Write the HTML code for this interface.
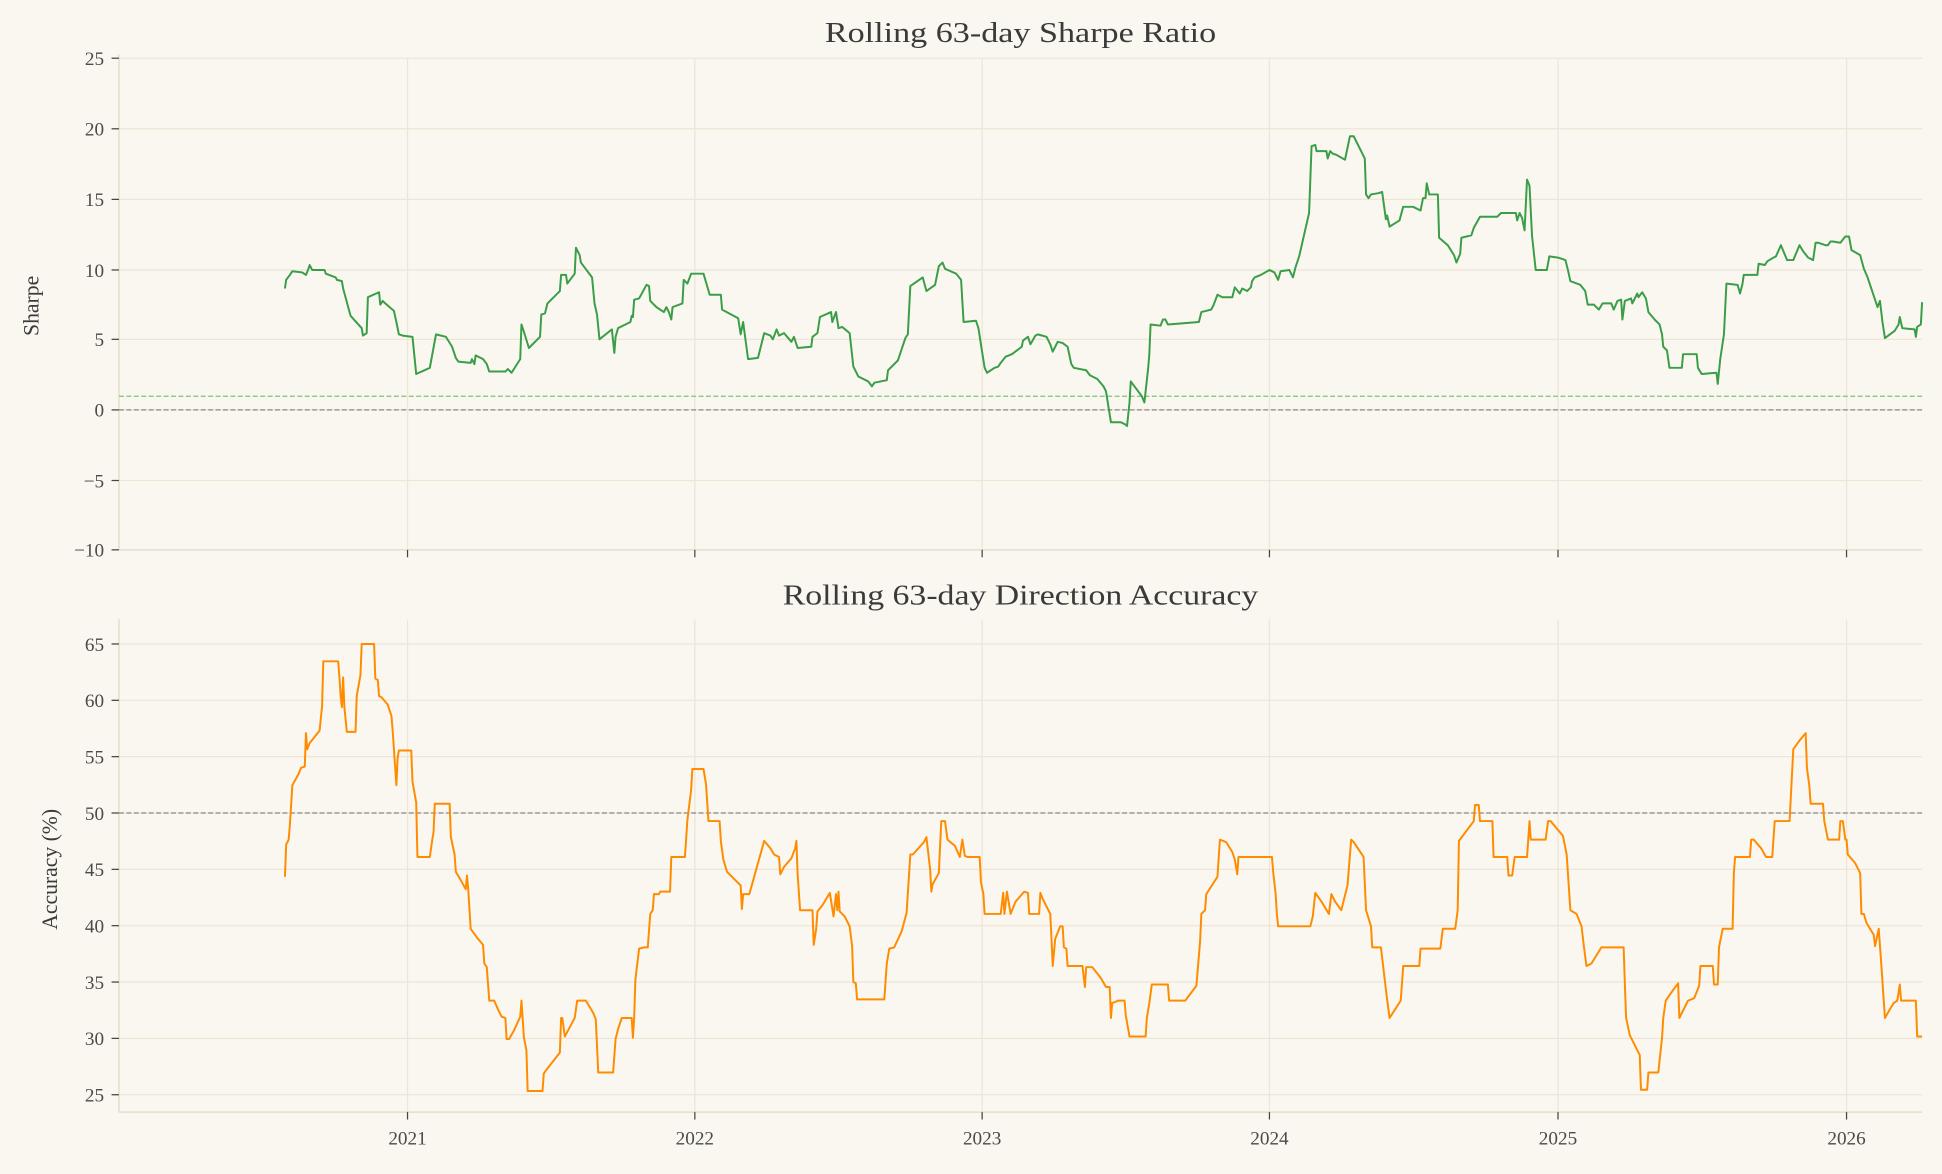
<!DOCTYPE html>
<html><head><meta charset="utf-8"><style>
html,body{margin:0;padding:0;background:#faf7f0;}
svg{display:block;}
text{font-family:"Liberation Serif","DejaVu Serif",serif;fill:#3a3a3a;}
.tk{font-size:15.5px;fill:#4a4a4a;}
</style></head><body>
<svg width="1942" height="1174" viewBox="0 0 1568 948" xmlns="http://www.w3.org/2000/svg">
<rect width="1568" height="948" fill="#faf7f0"/>
<g stroke="#eee5d5" stroke-width="1">
<line x1="96" y1="47" x2="1552" y2="47"/><line x1="96" y1="104" x2="1552" y2="104"/><line x1="96" y1="161" x2="1552" y2="161"/><line x1="96" y1="218" x2="1552" y2="218"/><line x1="96" y1="274" x2="1552" y2="274"/><line x1="96" y1="331" x2="1552" y2="331"/><line x1="96" y1="388" x2="1552" y2="388"/>
<line x1="329" y1="47" x2="329" y2="444"/><line x1="561" y1="47" x2="561" y2="444"/><line x1="793" y1="47" x2="793" y2="444"/><line x1="1025" y1="47" x2="1025" y2="444"/><line x1="1258" y1="47" x2="1258" y2="444"/><line x1="1491" y1="47" x2="1491" y2="444"/>
<line x1="96" y1="520" x2="1552" y2="520"/><line x1="96" y1="565.5" x2="1552" y2="565.5"/><line x1="96" y1="611" x2="1552" y2="611"/><line x1="96" y1="656.5" x2="1552" y2="656.5"/><line x1="96" y1="702" x2="1552" y2="702"/><line x1="96" y1="747.5" x2="1552" y2="747.5"/><line x1="96" y1="793" x2="1552" y2="793"/><line x1="96" y1="838.5" x2="1552" y2="838.5"/><line x1="96" y1="884" x2="1552" y2="884"/>
<line x1="329" y1="500" x2="329" y2="898"/><line x1="561" y1="500" x2="561" y2="898"/><line x1="793" y1="500" x2="793" y2="898"/><line x1="1025" y1="500" x2="1025" y2="898"/><line x1="1258" y1="500" x2="1258" y2="898"/><line x1="1491" y1="500" x2="1491" y2="898"/>
</g>
<g stroke="#e8dcc8" stroke-width="1.2">
<line x1="96" y1="44" x2="96" y2="444"/><line x1="96" y1="444" x2="1552" y2="444"/>
<line x1="96" y1="500" x2="96" y2="898"/><line x1="96" y1="898" x2="1552" y2="898"/>
</g>
<g stroke="#444" stroke-width="1">
<line x1="90" y1="47" x2="96" y2="47"/><line x1="90" y1="104" x2="96" y2="104"/><line x1="90" y1="161" x2="96" y2="161"/><line x1="90" y1="218" x2="96" y2="218"/><line x1="90" y1="274" x2="96" y2="274"/><line x1="90" y1="331" x2="96" y2="331"/><line x1="90" y1="388" x2="96" y2="388"/><line x1="90" y1="444" x2="96" y2="444"/>
<line x1="329" y1="444" x2="329" y2="450"/><line x1="561" y1="444" x2="561" y2="450"/><line x1="793" y1="444" x2="793" y2="450"/><line x1="1025" y1="444" x2="1025" y2="450"/><line x1="1258" y1="444" x2="1258" y2="450"/><line x1="1491" y1="444" x2="1491" y2="450"/>
<line x1="90" y1="520" x2="96" y2="520"/><line x1="90" y1="565.5" x2="96" y2="565.5"/><line x1="90" y1="611" x2="96" y2="611"/><line x1="90" y1="656.5" x2="96" y2="656.5"/><line x1="90" y1="702" x2="96" y2="702"/><line x1="90" y1="747.5" x2="96" y2="747.5"/><line x1="90" y1="793" x2="96" y2="793"/><line x1="90" y1="838.5" x2="96" y2="838.5"/><line x1="90" y1="884" x2="96" y2="884"/>
<line x1="329" y1="898" x2="329" y2="904"/><line x1="561" y1="898" x2="561" y2="904"/><line x1="793" y1="898" x2="793" y2="904"/><line x1="1025" y1="898" x2="1025" y2="904"/><line x1="1258" y1="898" x2="1258" y2="904"/><line x1="1491" y1="898" x2="1491" y2="904"/>
</g>
<g text-anchor="end">
<text x="84" y="52.5" class="tk">25</text><text x="84" y="109.5" class="tk">20</text><text x="84" y="166.5" class="tk">15</text><text x="84" y="223.5" class="tk">10</text><text x="84" y="279.5" class="tk">5</text><text x="84" y="336.5" class="tk">0</text><text x="84" y="393.5" class="tk">−5</text><text x="84" y="449.5" class="tk">−10</text>
<text x="84" y="525.5" class="tk">65</text><text x="84" y="571" class="tk">60</text><text x="84" y="616.5" class="tk">55</text><text x="84" y="662" class="tk">50</text><text x="84" y="707.5" class="tk">45</text><text x="84" y="753" class="tk">40</text><text x="84" y="798.5" class="tk">35</text><text x="84" y="844" class="tk">30</text><text x="84" y="889.5" class="tk">25</text>
</g>
<g text-anchor="middle">
<text x="329" y="924" class="tk">2021</text><text x="561" y="924" class="tk">2022</text><text x="793" y="924" class="tk">2023</text><text x="1025" y="924" class="tk">2024</text><text x="1258" y="924" class="tk">2025</text><text x="1491" y="924" class="tk">2026</text>
<text x="824" y="34" font-size="23" textLength="316" lengthAdjust="spacingAndGlyphs">Rolling 63-day Sharpe Ratio</text>
<text x="824" y="488" font-size="23" textLength="384" lengthAdjust="spacingAndGlyphs">Rolling 63-day Direction Accuracy</text>
<text transform="translate(31,247) rotate(-90)" font-size="17.5">Sharpe</text>
<text transform="translate(46,702) rotate(-90)" font-size="17.5">Accuracy (%)</text>
</g>
<line x1="96" y1="320" x2="1552" y2="320" stroke="#7cc47c" stroke-width="1" stroke-dasharray="4,2"/>
<line x1="96" y1="331" x2="1552" y2="331" stroke="#888" stroke-width="1" stroke-dasharray="4,2"/>
<line x1="96" y1="656.5" x2="1552" y2="656.5" stroke="#888" stroke-width="1" stroke-dasharray="4,2"/>
<polyline fill="none" stroke="#3a9d48" stroke-width="1.6" stroke-linejoin="round" points="230,233 231,226 234,222 236,219 244,220 247,222 249,217 250,214 252,218 262,218 263,221 271,224 272,226 276,227 277,233 280,244 283,255 292,265 293,271 296,269 297,240 306,236 307,246 309,243 311,245 318,251 320,260 322,270 325,271 333,272 336,302 347,297 352,270 360,272 365,280 368,289 370,292 380,293 381,290 383,294 384,287 390,290 393,294 395,300 408,300 410,298 413,301 420,290 421,262 423,268 427,281 436,272 437,254 440,253 442,245 452,235 453,222 457,222 458,229 464,221 465,200 468,206 469,212 478,224 480,245 482,254 484,274 494,266 496,285 497,272 499,265 509,260 510,255 511,256 512,242 516,241 522,230 524,231 525,243 530,248 536,252 538,248 540,252 542,258 543,248 551,245 552,226 555,229 558,221 568,221 573,238 582,238 583,250 596,257 598,270 600,260 604,290 612,289 617,269 622,271 624,274 627,266 629,271 633,269 639,276 641,272 644,281 655,280 656,272 660,269 662,256 671,252 672,260 675,252 677,265 680,264 686,269 689,296 693,304 701,308 704,312 706,309 716,307 717,299 725,291 731,273 733,270 735,231 745,224 748,235 755,230 758,215 761,212 763,217 772,221 776,226 778,260 788,259 790,265 792,278 795,297 797,301 803,297 806,296 808,293 812,288 817,286 825,280 826,275 830,272 832,278 836,271 838,270 845,272 848,278 850,284 854,276 858,277 862,280 865,294 867,297 877,299 880,303 886,306 891,312 893,316 897,341 905,341 909,343 910,344 912,325 913,308 922,320 924,325 927,298 928,286 929,262 937,263 939,258 941,258 943,262 968,260 970,252 978,250 980,246 983,238 987,240 995,240 997,232 1001,237 1003,233 1007,235 1010,232 1011,227 1013,224 1018,222 1025,218 1029,220 1032,226 1034,219 1041,218 1043,222 1044,224 1046,216 1049,207 1057,172 1059,118 1062,117 1063,122 1071,122 1072,128 1074,122 1076,124 1079,125 1086,129 1090,110 1093,110 1102,128 1103,157 1105,160 1107,157 1113,156 1116,155 1119,177 1120,174 1122,183 1130,178 1133,167 1141,167 1147,170 1149,160 1151,160 1152,148 1154,157 1161,157 1162,192 1169,198 1174,206 1176,212 1179,205 1180,192 1188,190 1190,184 1195,175 1209,175 1212,172 1224,172 1225,178 1227,172 1229,176 1231,186 1233,145 1235,150 1237,190 1240,218 1249,218 1251,207 1258,208 1264,210 1266,218 1268,227 1276,230 1280,235 1282,246 1287,246 1291,250 1294,245 1301,245 1303,250 1306,243 1309,242 1310,258 1312,243 1317,241 1318,245 1322,237 1323,240 1326,236 1329,241 1331,252 1336,258 1340,262 1342,270 1343,280 1346,283 1348,297 1358,297 1359,286 1370,286 1371,297 1374,302 1386,301 1387,310 1389,290 1392,270 1394,229 1403,230 1405,237 1407,229 1408,222 1419,222 1420,213 1425,214 1427,211 1432,208 1434,207 1438,198 1443,210 1448,210 1453,198 1456,203 1460,208 1464,210 1466,196 1468,196 1474,198 1476,198 1478,195 1480,195 1486,196 1490,191 1493,191 1495,202 1502,206 1505,217 1508,224 1513,239 1516,248 1518,243 1520,260 1522,273 1530,267 1533,262 1534,256 1536,265 1546,266 1547,272 1548,264 1551,262 1552,244"/>
<polyline fill="none" stroke="#ff8c00" stroke-width="1.6" stroke-linejoin="round" points="230,708 231,682 233,678 234,666 235,650 236,634 241,625 243,620 246,619 247,592 248,605 250,600 258,590 260,570 261,534 273,534 274,547 275,562 276,571 277,547 278,571 280,591 287,591 288,562 291,545 292,520 302,520 303,548 305,549 306,562 308,563 313,569 316,578 317,590 320,634 321,612 322,606 332,606 333,631 336,648 337,692 347,692 349,678 350,672 351,649 363,649 364,676 367,690 368,704 371,709 376,718 377,707 378,718 380,750 385,757 390,763 391,778 393,781 395,808 399,808 402,815 405,821 408,822 409,839 411,839 415,832 420,821 421,808 423,838 425,848 426,881 438,881 439,867 441,864 452,850 453,822 454,822 456,837 464,822 466,808 473,808 479,818 481,823 483,866 495,866 497,839 499,831 502,822 510,822 511,838 512,822 513,791 516,766 520,765 523,765 525,738 527,735 528,722 532,722 533,720 541,720 542,692 553,692 555,662 558,638 559,621 568,621 570,633 572,663 581,663 582,679 584,694 587,704 598,715 599,734 600,722 605,722 617,679 622,685 625,690 629,692 630,706 633,700 639,693 642,685 643,679 644,706 646,735 656,735 657,763 659,750 660,736 664,731 670,721 673,740 675,722 676,735 677,720 678,736 682,740 686,748 688,764 689,793 691,794 692,807 714,807 716,778 718,766 722,765 728,752 732,737 735,690 737,690 746,680 748,676 751,702 752,720 753,714 758,705 760,663 763,663 765,678 771,683 775,692 777,678 779,691 781,692 791,692 792,712 794,722 795,738 808,738 810,721 811,738 813,720 816,738 820,728 827,720 830,721 831,738 839,738 840,721 842,726 848,738 849,758 850,780 852,758 856,748 858,748 859,765 861,766 862,780 874,780 876,797 877,781 882,781 889,790 893,797 896,797 897,822 898,810 903,808 908,808 909,820 912,837 925,837 926,822 928,810 930,795 943,795 944,808 957,808 966,796 969,760 970,738 973,735 974,722 983,708 985,678 990,680 995,688 997,694 999,706 1000,692 1027,692 1028,704 1030,722 1031,738 1032,748 1058,748 1060,740 1062,721 1067,728 1073,738 1075,722 1078,728 1083,735 1088,715 1091,678 1093,680 1101,692 1103,735 1107,748 1108,765 1115,765 1117,782 1120,807 1122,822 1131,808 1133,780 1146,780 1147,766 1163,766 1165,750 1175,750 1177,735 1178,679 1190,663 1191,650 1194,650 1195,663 1205,663 1206,692 1217,692 1218,707 1221,707 1223,692 1233,692 1235,663 1236,678 1248,678 1250,663 1252,663 1262,675 1265,690 1268,735 1273,738 1277,748 1279,765 1281,780 1285,778 1293,765 1311,765 1312,795 1313,822 1316,836 1324,852 1325,880 1330,880 1331,866 1339,866 1342,838 1343,822 1345,808 1352,798 1355,794 1356,822 1363,808 1368,806 1372,796 1373,780 1383,780 1384,795 1387,795 1388,765 1391,750 1399,750 1400,705 1401,692 1413,692 1414,678 1416,678 1422,685 1426,692 1431,692 1433,663 1445,663 1448,605 1453,598 1458,592 1459,620 1461,635 1462,649 1472,649 1473,663 1476,678 1485,678 1486,663 1488,663 1490,678 1491,678 1492,690 1498,697 1502,705 1503,738 1505,738 1507,745 1513,755 1514,764 1517,750 1519,778 1522,822 1526,815 1529,810 1532,808 1534,795 1535,808 1547,808 1548,837 1552,837"/>
</svg>
</body></html>
